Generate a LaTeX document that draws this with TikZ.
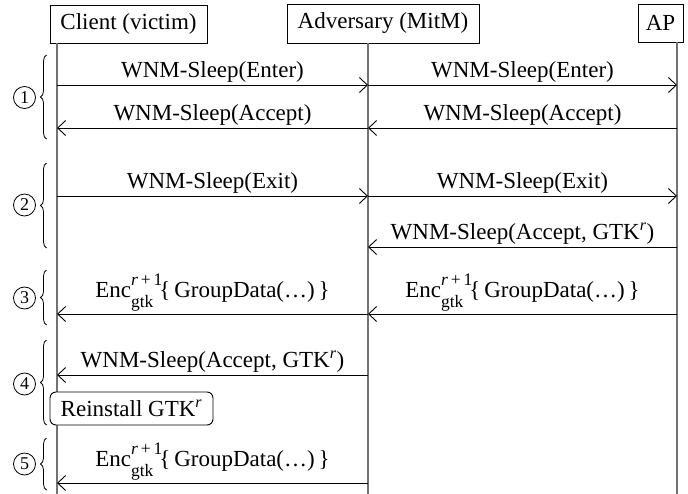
\documentclass[tikz,border=0pt]{standalone}
\usepackage{fontspec}
\setmainfont{Liberation Serif}
\usetikzlibrary{arrows.meta,decorations.pathreplacing}

% size used for indices
\newcommand\idx[1]{{\fontsize{17.5}{17.5}\selectfont #1}}
% Enc with stacked key index and round number
\newcommand\encgtk{Enc\mbox{\rlap{\raisebox{12pt}{\idx{\textit{r}\,+\,1}}}\raisebox{-10pt}{\idx{gtk}}}\hspace{6pt}}
\newcommand\gtkr{GTK\textsuperscript{\textit{r}}}

\begin{document}
\begin{tikzpicture}[x=1pt,y=-1pt,
  txt/.style={font=\fontsize{23}{27}\selectfont},
  actor/.style={draw,line width=0.9pt,inner sep=0pt,txt},
  life/.style={line width=1.6pt,black!55},
  msg/.style={line width=0.9pt,-{Straight Barb[length=8pt,width=15pt,line width=0.9pt]}},
  lbl/.style={above,inner sep=2pt,txt},
  phase/.style={decorate,decoration={brace,amplitude=6pt},line width=0.8pt},
  num/.style={circle,draw,line width=0.8pt,minimum size=22pt,inner sep=0pt,font=\fontsize{18}{18}\selectfont}]

\useasboundingbox (0,0) rectangle (688,493);
\clip (0,0) rectangle (688,493);

% participants
\node[actor,minimum width=157pt,minimum height=38pt] (client) at (128.5,24) {Client (victim)};
\node[actor,minimum width=192pt,minimum height=39pt] (adv) at (383,23.5) {Adversary (MitM)};
\node[actor,minimum width=45pt,minimum height=38pt] (ap) at (660.5,23) {AP};

% lifelines
\coordinate (C) at (57,43);
\coordinate (A) at (368,43);
\coordinate (P) at (677,42);
\coordinate (Cend) at (57,500);
\coordinate (Aend) at (368,500);
\coordinate (Pend) at (677,500);
\draw[life] (C) -- (Cend);
\draw[life] (A) -- (Aend);
\draw[life] (P) -- (Pend);

% phase 1: enter sleep mode
\draw[msg] (C |- 0,85) -- node[lbl]{WNM-Sleep(Enter)} (A |- 0,85);
\draw[msg] (A |- 0,85) -- node[lbl]{WNM-Sleep(Enter)} (P |- 0,85);
\draw[msg] (P |- 0,128) -- node[lbl]{WNM-Sleep(Accept)} (A |- 0,128);
\draw[msg] (A |- 0,128) -- node[lbl]{WNM-Sleep(Accept)} (C |- 0,128);

% phase 2: exit sleep mode
\draw[msg] (C |- 0,196) -- node[lbl]{WNM-Sleep(Exit)} (A |- 0,196);
\draw[msg] (A |- 0,196) -- node[lbl]{WNM-Sleep(Exit)} (P |- 0,196);
\draw[msg] (P |- 0,247) -- node[lbl]{WNM-Sleep(Accept, \gtkr)} (A |- 0,247);

% phase 3: group traffic under the new key
\draw[msg] (P |- 0,314) -- node[lbl]{\encgtk\{\,GroupData(…)\,\}} (A |- 0,314);
\draw[msg] (A |- 0,314) -- node[lbl]{\encgtk\{\,GroupData(…)\,\}} (C |- 0,314);

% phase 4: delayed response, key reinstallation
\draw[msg] (A |- 0,375) -- node[lbl]{WNM-Sleep(Accept, \gtkr)} (C |- 0,375);
\node[draw,rounded corners=6pt,line width=0.9pt,fill=white,txt,inner sep=0pt,
      minimum width=163pt,minimum height=33pt] (rein) at (131.5,408.5) {Reinstall \gtkr};

% phase 5: replayed group traffic
\draw[msg] (A |- 0,483) -- node[lbl]{\encgtk\{\,GroupData(…)\,\}} (C |- 0,483);

% phase braces and numbers
\draw[phase] (46.5,139) -- (46.5,55);
\draw[phase] (46.5,248) -- (46.5,163);
\draw[phase] (46.5,325) -- (46.5,270);
\draw[phase] (46.5,425) -- (46.5,340);
\draw[phase] (46.5,490) -- (46.5,438);
\node[num] (n1) at (24.5,97.5) {1};
\node[num] (n2) at (24.5,205) {2};
\node[num] (n3) at (24.5,298) {3};
\node[num] (n4) at (24.5,384) {4};
\node[num] (n5) at (24.5,464) {5};
\end{tikzpicture}
\end{document}
